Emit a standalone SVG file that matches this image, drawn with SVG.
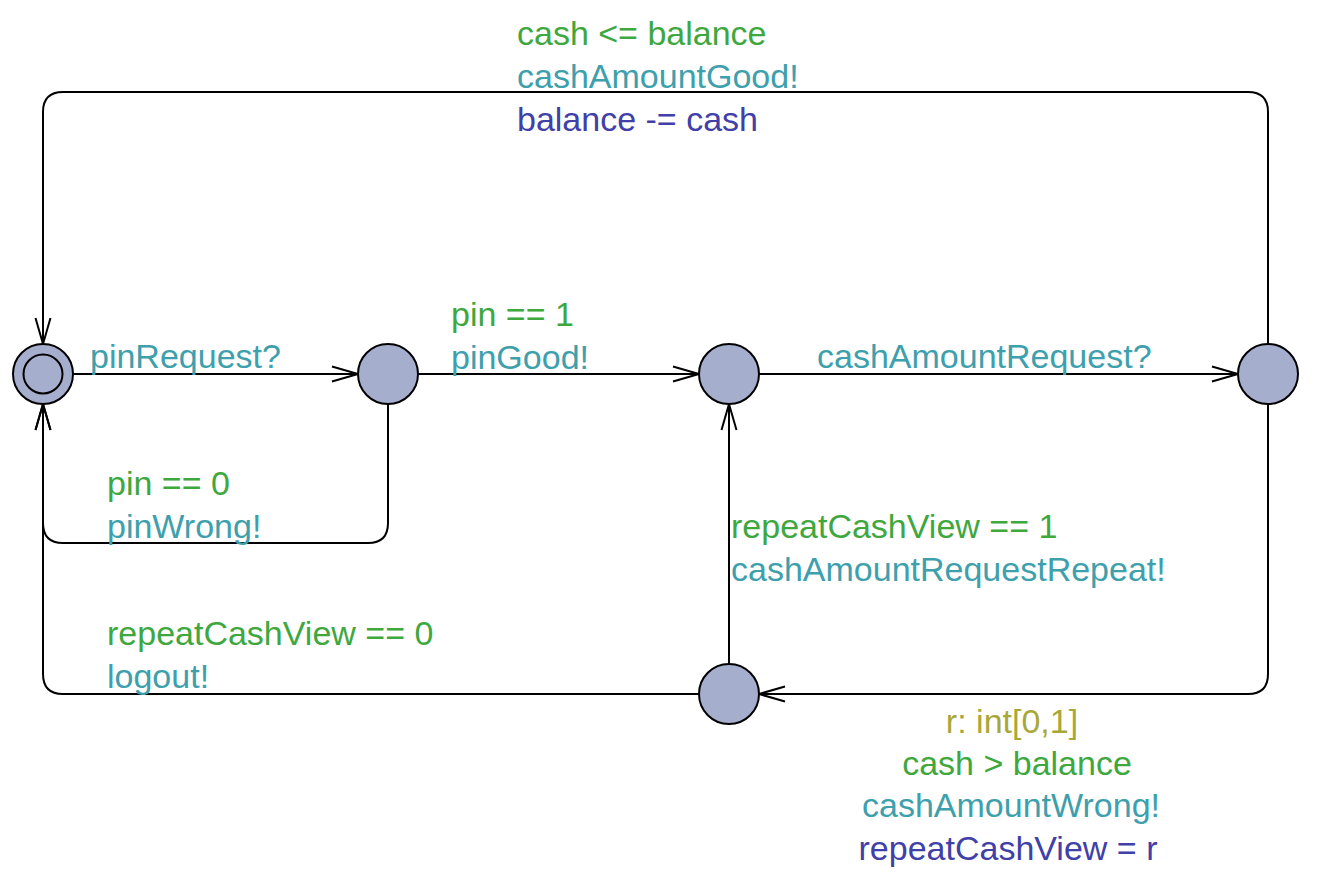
<svg xmlns="http://www.w3.org/2000/svg" width="1333" height="887" viewBox="0 0 1333 887">
<defs>
<marker id="arr" markerUnits="userSpaceOnUse" markerWidth="30" markerHeight="20" viewBox="-28 -10 30 20" refX="0" refY="0" orient="auto" overflow="visible">
<path d="M-26,-7.5 L0,0 L-26,7.5" fill="none" stroke="#000" stroke-width="2"/>
</marker>
<style>
.n{fill:#a6aecd;stroke:#000;stroke-width:2}
.e{fill:none;stroke:#000;stroke-width:2}
text{font-family:"Liberation Sans",Arial,sans-serif;font-size:34px}
.g{fill:#3ea83e}
.s{fill:#3ea0ac}
.u{fill:#4040a8}
.sel{fill:#a8a83a}
</style>
</defs>
<rect width="1333" height="887" fill="#fff"/>
<g id="connectors">
<path class="e" d="M73,374 H358" marker-end="url(#arr)"/>
<path class="e" d="M418,374 H699" marker-end="url(#arr)"/>
<path class="e" d="M759,374 H1238" marker-end="url(#arr)"/>
<path class="e" d="M1268,344 V112 Q1268,92 1248,92 H63 Q43,92 43,112 V344" marker-end="url(#arr)"/>
<path class="e" d="M388,404 V523 Q388,543 368,543 H63 Q43,543 43,523 V404" marker-end="url(#arr)"/>
<path class="e" d="M1268,404 V674 Q1268,694 1248,694 H759" marker-end="url(#arr)"/>
<path class="e" d="M699,694 H63 Q43,694 43,674 V404" marker-end="url(#arr)"/>
<path class="e" d="M729,664 V404" marker-end="url(#arr)"/>
</g>
<g id="node0"><circle class="n" cx="43" cy="374" r="30"/><circle class="n" cx="43" cy="374" r="19.5"/></g>
<g id="node1"><circle class="n" cx="388" cy="374" r="30"/></g>
<g id="node2"><circle class="n" cx="729" cy="374" r="30"/></g>
<g id="node3"><circle class="n" cx="1268" cy="374" r="30"/></g>
<g id="node4"><circle class="n" cx="729" cy="694" r="30"/></g>
<g id="labels">
<text class="g" x="517" y="45">cash &lt;= balance</text>
<text class="s" x="517" y="88">cashAmountGood!</text>
<text class="u" x="517" y="131">balance -= cash</text>
<text class="s" x="90" y="368">pinRequest?</text>
<text class="g" x="451" y="326">pin == 1</text>
<text class="s" x="451" y="369">pinGood!</text>
<text class="s" x="817" y="368">cashAmountRequest?</text>
<text class="g" x="107" y="495">pin == 0</text>
<text class="s" x="107" y="538">pinWrong!</text>
<text class="g" x="731" y="538">repeatCashView == 1</text>
<text class="s" x="731" y="581">cashAmountRequestRepeat!</text>
<text class="g" x="107" y="645">repeatCashView == 0</text>
<text class="s" x="107" y="688">logout!</text>
<text class="sel" x="1012" y="733" text-anchor="middle">r: int[0,1]</text>
<text class="g" x="1017" y="775" text-anchor="middle">cash &gt; balance</text>
<text class="s" x="1011" y="817" text-anchor="middle">cashAmountWrong!</text>
<text class="u" x="1008" y="860" text-anchor="middle">repeatCashView = r</text>
</g>
</svg>
